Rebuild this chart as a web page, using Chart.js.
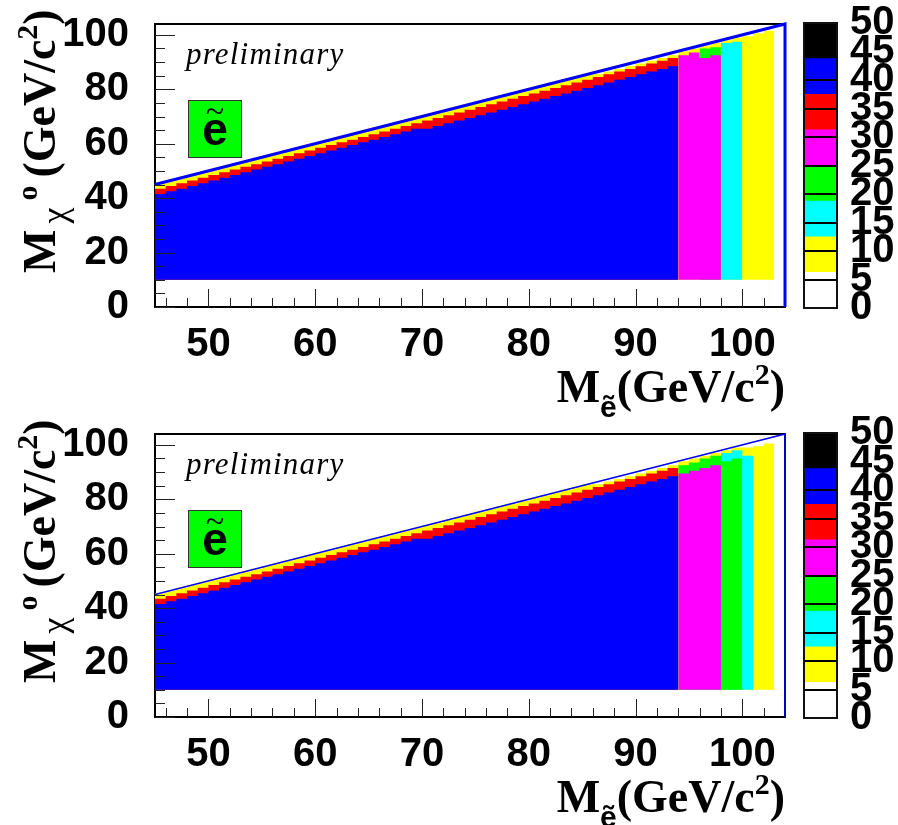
<!DOCTYPE html>
<html>
<head>
<meta charset="utf-8">
<script src="https://cdn.jsdelivr.net/npm/chart.js@4.4.1/dist/chart.umd.min.js"></script>
<style>
body { margin: 0; background: #fff; width: 898px; height: 825px; position: relative; overflow: hidden; }
canvas { position: absolute; }
</style>
</head>
<body>
<canvas id="mainA" width="800" height="420" style="left:0;top:0"></canvas>
<canvas id="mainB" width="800" height="415" style="left:0;top:410px"></canvas>
<canvas id="palA" width="108" height="410" style="left:790px;top:0"></canvas>
<canvas id="palB" width="108" height="410" style="left:790px;top:410px"></canvas>
<script>
// axes
const xMin = 45, xMax = 104, yMin = 0, yMax = 104
const xTicks = [50, 60, 70, 80, 90, 100]
const xMinorTicks = [46, 48, 52, 54, 56, 58, 62, 64, 66, 68, 72, 74, 76, 78, 82, 84, 86, 88, 92, 94, 96, 98, 102]
const yTicks = [0, 20, 40, 60, 80, 100]
const yMinorTicks = [5, 10, 15, 25, 30, 35, 45, 50, 55, 65, 70, 75, 85, 90, 95]
const zTicks = [0, 5, 10, 15, 20, 25, 30, 35, 40, 45, 50]
const paletteColors = ['#ffffff', '#ffff00', '#00ffff', '#00ff00', '#ff00ff', '#ff0000', '#0000ff', '#000000']
const paletteStep = 6.25

// kinematic limit M_chi = M_e
const diagX = [45, 104, 104]
const diagY = [45, 104, 0]

// histogram: lowest filled y edge, first x bin (1 GeV bins)
const yFloor = 10
const firstBin = 45
// tops of the colour bands, one value per x bin starting at firstBin (bins 45..93)
const blueTop = [41.5, 42.5, 43.5, 44.5, 45.5, 46.5, 47.5, 48.5, 49.5, 50.5, 51.5, 52.5, 53.5, 54.5, 55.5,
  56.5, 57.5, 58.5, 59.5, 60.5, 61.5, 62.5, 63.5, 64.5, 65.5, 65.5, 66.5, 67.5, 68.5, 69.5, 70.5, 71.5,
  72.5, 73.5, 74.5, 75.5, 76.5, 77.5, 78.5, 79.5, 80.5, 81.5, 82.5, 83.5, 84.5, 85.5, 86.5, 87.5, 88.5]
const redTop = [43.5, 44.5, 45.5, 46.5, 47.5, 48.5, 49.5, 50.5, 51.5, 52.5, 53.5, 54.5, 55.5, 56.5, 57.5,
  58.5, 59.5, 60.5, 61.5, 62.5, 63.5, 64.5, 65.5, 66.5, 67.5, 68.5, 69.5, 70.5, 71.5, 72.5, 73.5, 74.5,
  75.5, 76.5, 77.5, 78.5, 79.5, 80.5, 81.5, 82.5, 83.5, 84.5, 85.5, 86.5, 87.5, 88.5, 89.5, 90.5, 91.5]

// upper plot (bins 45..102)
const yellowTopA = [45.5, 46.5, 47.5, 48.5, 49.5, 50.5, 51.5, 52.5, 53.5, 54.5, 55.5, 56.5, 57.5, 58.5, 59.5,
  60.5, 61.5, 62.5, 63.5, 64.5, 65.5, 66.5, 67.5, 68.5, 69.5, 70.5, 71.5, 72.5, 73.5, 74.5, 75.5, 76.5,
  77.5, 78.5, 79.5, 80.5, 81.5, 82.5, 83.5, 84.5, 85.5, 85.5, 86.5, 87.5, 88.5, 89.5, 90.5, 91.5, 92.5,
  94, 95, 96, 97, 98, 99, 99.5, 100.5, 101.5]
const magentaBinA = 94, magentaTopA = [92.5, 93.5, 91.5, 92.5]
const greenBinA = 96, greenTopA = [95, 95.5]
const cyanBinA = 98, cyanTopA = [97, 97.5]

// lower plot (bins 45..102)
const yellowTopB = [45.5, 46.5, 47.5, 48.5, 49.5, 50.5, 51.5, 52.5, 53.5, 54.5, 55.5, 56.5, 57.5, 58.5, 59.5,
  60.5, 61.5, 62.5, 63.5, 64.5, 65.5, 66.5, 67.5, 68.5, 69.5, 70.5, 71.5, 72.5, 73.5, 74.5, 75.5, 76.5,
  77.5, 78.5, 79.5, 80.5, 81.5, 82.5, 83.5, 84.5, 85.5, 85.5, 86.5, 87.5, 88.5, 89.5, 90.5, 91.5, 92.5,
  94, 95, 96, 97, 98, 99, 99, 99.5, 100.5]
const magentaBinB = 94, magentaTopB = [89.5, 90.5, 91.5, 92.5]
const greenBinB = 94, greenTopB = [92.5, 93.5, 95, 96, 94, 95]
const cyanBinB = 98, cyanTopB = [97, 98, 96]

const tickFont = { family: 'Liberation Sans', weight: 'bold', size: 40 }
const serifB = 'bold 46px "Liberation Serif"'

function stepData(first, tops) {
  const pts = tops.map((t, k) => ({ x: first + k, y: t }))
  pts.push({ x: first + tops.length, y: tops[tops.length - 1] })
  return pts
}

function layer(color, first, tops) {
  return {
    data: stepData(first, tops),
    stepped: 'before',
    fill: { value: yFloor },
    backgroundColor: color,
    borderColor: 'rgba(0,0,0,0)',
    borderWidth: 0,
    pointRadius: 0
  }
}

// no extra room for the end labels, the plot area is fixed
function noPad(s) {
  s.paddingTop = 0
  s.paddingBottom = 0
  s.paddingLeft = 0
  s.paddingRight = 0
}

function drawRich(ctx, parts, x, y, align) {
  let w = 0
  for (const p of parts) { ctx.font = p[1]; w += ctx.measureText(p[0]).width + (p[3] || 0) }
  let cx = align === 'right' ? x - w : x
  for (const p of parts) {
    ctx.font = p[1]
    ctx.fillText(p[0], cx, y + (p[2] || 0))
    cx += ctx.measureText(p[0]).width + (p[3] || 0)
  }
}

const framePlugin = {
  id: 'frame',
  beforeDatasetsDraw(chart) {
    const a = chart.chartArea, ctx = chart.ctx
    ctx.save()
    ctx.strokeStyle = '#000'
    ctx.lineWidth = 2
    ctx.strokeRect(a.left, a.top, a.right - a.left, a.bottom - a.top)
    ctx.restore()
  }
}

// ROOT style ticks inside the frame
const tickPlugin = {
  id: 'insideTicks',
  afterDatasetsDraw(chart) {
    const ctx = chart.ctx, a = chart.chartArea
    const sx = chart.scales.x, sy = chart.scales.y
    ctx.save()
    ctx.strokeStyle = '#222'
    ctx.lineWidth = 1
    ctx.beginPath()
    xMinorTicks.concat(xTicks).forEach(v => {
      const px = Math.round(sx.getPixelForValue(v)) + 0.5
      const len = xTicks.includes(v) ? 18 : 9
      ctx.moveTo(px, a.bottom)
      ctx.lineTo(px, a.bottom - len)
    })
    yMinorTicks.concat(yTicks).forEach(v => {
      const py = Math.round(sy.getPixelForValue(v)) + 0.5
      const len = yTicks.includes(v) ? 20 : 10
      ctx.moveTo(a.left, py)
      ctx.lineTo(a.left + len, py)
    })
    ctx.stroke()
    ctx.restore()
  }
}

const textPlugin = {
  id: 'labels',
  afterDraw(chart) {
    const ctx = chart.ctx
    ctx.save()
    ctx.fillStyle = '#000'
    ctx.textBaseline = 'alphabetic'
    // preliminary
    ctx.font = 'italic 31px "Liberation Serif"'
    if ('letterSpacing' in ctx) ctx.letterSpacing = '1.2px'
    ctx.fillText('preliminary', 186, 64)
    if ('letterSpacing' in ctx) ctx.letterSpacing = '0px'
    // selectron box
    ctx.fillStyle = '#00ff00'
    ctx.fillRect(188, 100, 54, 58)
    ctx.strokeStyle = '#333'
    ctx.lineWidth = 1
    ctx.strokeRect(188.5, 100.5, 53, 57)
    ctx.fillStyle = '#000'
    ctx.textAlign = 'center'
    ctx.font = 'bold 46px "Liberation Sans"'
    ctx.fillText('e', 215, 145)
    ctx.font = '34px "Liberation Serif"'
    ctx.fillText('~', 215, 122)
    ctx.textAlign = 'left'
    // x title
    drawRich(ctx, [
      ['M', serifB],
      ['ẽ', 'bold 30px "Liberation Sans"', 15],
      ['(GeV/c', serifB],
      ['2', 'bold 30px "Liberation Serif"', -18],
      [')', serifB]
    ], 785, 402, 'right')
    // y title
    ctx.translate(55, 273)
    ctx.rotate(-Math.PI / 2)
    drawRich(ctx, [
      ['M', serifB, 0, 6],
      ['χ', '36px "Liberation Serif"', 11, 7],
      ['o', 'bold 30px "Liberation Serif"', -18, 8],
      ['(GeV/c', serifB],
      ['2', 'bold 30px "Liberation Serif"', -18],
      [')', serifB]
    ], 0, 0, 'left')
    ctx.restore()
  }
}

function makeMain(id, lineWidth, padBottom, layers) {
  const diag = {
    data: diagX.map((x, i) => ({ x: x, y: diagY[i] })),
    borderColor: '#0000ff',
    borderWidth: lineWidth,
    pointRadius: 0,
    fill: false,
    clip: 4
  }
  return new Chart(document.getElementById(id), {
    type: 'line',
    data: { datasets: [diag].concat(layers) },
    options: {
      responsive: false,
      animation: false,
      layout: { padding: { top: 24, right: 15, left: 0, bottom: padBottom } },
      plugins: { legend: { display: false }, tooltip: { enabled: false } },
      scales: {
        x: {
          type: 'linear', min: xMin, max: xMax,
          grid: { display: false }, border: { display: false },
          afterBuildTicks: s => { s.ticks = xTicks.map(v => ({ value: v })) },
          afterFit: s => { s.height = 103; noPad(s) },
          ticks: { font: tickFont, color: '#000', padding: 6, maxRotation: 0, minRotation: 0, autoSkip: false }
        },
        y: {
          type: 'linear', min: yMin, max: yMax,
          grid: { display: false }, border: { display: false },
          afterBuildTicks: s => { s.ticks = yTicks.map(v => ({ value: v })) },
          afterFit: s => { s.width = 155; noPad(s) },
          ticks: { font: tickFont, color: '#000', padding: 18, autoSkip: false }
        }
      }
    },
    plugins: [framePlugin, tickPlugin, textPlugin]
  })
}

function makePalette(id) {
  return new Chart(document.getElementById(id), {
    type: 'bar',
    data: {
      labels: [''],
      datasets: paletteColors.map(c => ({
        data: [paletteStep], backgroundColor: c, borderWidth: 0,
        barPercentage: 1, categoryPercentage: 1
      }))
    },
    options: {
      responsive: false,
      animation: false,
      layout: { padding: { left: 14, top: 23, right: 0, bottom: 102 } },
      plugins: { legend: { display: false }, tooltip: { enabled: false } },
      scales: {
        x: { display: false, stacked: true },
        y: {
          stacked: true, position: 'right', min: 0, max: 50,
          afterBuildTicks: s => { s.ticks = zTicks.map(v => ({ value: v })) },
          afterFit: s => { s.width = 61; noPad(s) },
          grid: { color: '#000', lineWidth: 2, z: 1, drawTicks: false },
          border: { display: false },
          ticks: { font: tickFont, color: '#000', padding: 13, autoSkip: false }
        }
      }
    },
    plugins: [{
      id: 'outline',
      afterDraw(chart) {
        const a = chart.chartArea, ctx = chart.ctx
        ctx.save()
        ctx.strokeStyle = '#111'
        ctx.lineWidth = 2
        ctx.strokeRect(a.left, a.top, a.right - a.left, a.bottom - a.top)
        ctx.restore()
      }
    }]
  })
}

makeMain('mainA', 3, 10, [
  layer('#0000ff', firstBin, blueTop),
  layer('#ff0000', firstBin, redTop),
  layer('#ff00ff', magentaBinA, magentaTopA),
  layer('#00ff00', greenBinA, greenTopA),
  layer('#00ffff', cyanBinA, cyanTopA),
  layer('#ffff00', firstBin, yellowTopA)
])
makeMain('mainB', 1.5, 5, [
  layer('#0000ff', firstBin, blueTop),
  layer('#ff0000', firstBin, redTop),
  layer('#ff00ff', magentaBinB, magentaTopB),
  layer('#00ff00', greenBinB, greenTopB),
  layer('#00ffff', cyanBinB, cyanTopB),
  layer('#ffff00', firstBin, yellowTopB)
])
makePalette('palA')
makePalette('palB')
</script>
</body>
</html>
